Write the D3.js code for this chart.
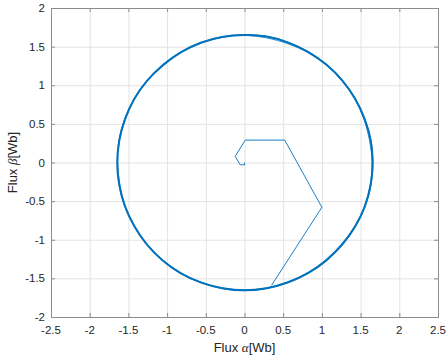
<!DOCTYPE html>
<html>
<head>
<meta charset="utf-8">
<script src="https://cdn.jsdelivr.net/npm/d3@7"></script>
<style>
  body { margin: 0; background: #fff; }
  svg { display: block; font-family: "Liberation Sans", Arial, sans-serif; }
</style>
</head>
<body>
<svg id="chart" width="447" height="359"></svg>
<script>
// tick values
var xTicks = [-2.5, -2, -1.5, -1, -0.5, 0, 0.5, 1, 1.5, 2, 2.5];
var yTicks = [-2, -1.5, -1, -0.5, 0, 0.5, 1, 1.5, 2];

// start-up transient (alpha, beta)
var startAlpha = [0, 0, -0.055, -0.12, 0.01, 0.52, 1.0, 0.35];
var startBeta = [0, -0.03, -0.03, 0.08, 0.29, 0.29, -0.58, -1.59];

// steady state flux locus, read as radius at each angle (deg)
var ringAngle = [0, 10, 20, 30, 40, 50, 60, 70, 80, 90, 100, 110, 120, 130, 140, 150, 160, 170,
                 180, 190, 200, 210, 220, 230, 240, 250, 260, 270, 280, 290, 300, 310, 320, 330, 340, 350];
var ringMain = [1.655, 1.655, 1.65, 1.65, 1.65, 1.65, 1.65, 1.652, 1.655, 1.65, 1.65, 1.65, 1.648, 1.645, 1.645, 1.645, 1.643, 1.643,
                1.643, 1.643, 1.645, 1.645, 1.648, 1.65, 1.652, 1.652, 1.652, 1.655, 1.652, 1.65, 1.65, 1.65, 1.65, 1.652, 1.655, 1.655];
var ringInner = [1.648, 1.64, 1.642, 1.645, 1.646, 1.644, 1.642, 1.636, 1.638, 1.646, 1.646, 1.644, 1.638, 1.632, 1.64, 1.642, 1.636, 1.64,
                 1.64, 1.636, 1.642, 1.642, 1.645, 1.646, 1.648, 1.648, 1.648, 1.65, 1.648, 1.645, 1.642, 1.638, 1.638, 1.645, 1.65, 1.65];
var ringOuter = [1.66, 1.658, 1.656, 1.654, 1.654, 1.654, 1.655, 1.656, 1.658, 1.655, 1.654, 1.653, 1.651, 1.649, 1.648, 1.648, 1.647, 1.647,
                 1.647, 1.647, 1.648, 1.649, 1.651, 1.654, 1.656, 1.656, 1.656, 1.658, 1.656, 1.654, 1.654, 1.654, 1.655, 1.656, 1.66, 1.66];

var svg = d3.select("#chart");
var padL = 51, padR = 438, padT = 8, padB = 317;

var x = d3.scaleLinear().domain([-2.5, 2.5]).range([padL, padR]);
var y = d3.scaleLinear().domain([-2, 2]).range([padB, padT]);

// grid
var grid = svg.append("g");
grid.selectAll(".gx").data(xTicks).enter().append("line")
    .attr("x1", d => x(d) + 0.5).attr("x2", d => x(d) + 0.5)
    .attr("y1", padT).attr("y2", padB)
    .attr("stroke", "#e3e3e3").attr("stroke-width", 1);
grid.selectAll(".gy").data(yTicks).enter().append("line")
    .attr("y1", d => y(d) + 0.5).attr("y2", d => y(d) + 0.5)
    .attr("x1", padL).attr("x2", padR)
    .attr("stroke", "#e3e3e3").attr("stroke-width", 1);

// data
var line = d3.line().x(d => x(d[0])).y(d => y(d[1]));
var ringLine = d3.line().x(d => x(d[0])).y(d => y(d[1])).curve(d3.curveCatmullRomClosed);

function ringPoints(radii) {
    return ringAngle.map(function (a, i) {
        var t = a * Math.PI / 180;
        return [radii[i] * Math.cos(t), radii[i] * Math.sin(t)];
    });
}

var plot = svg.append("g");
[ringInner, ringOuter, ringMain].forEach(function (r, i) {
    plot.append("path")
        .datum(ringPoints(r))
        .attr("fill", "none")
        .attr("stroke", "#0072BD")
        .attr("stroke-width", i == 2 ? 2 : 0.8)
        .attr("d", ringLine);
});

plot.append("path")
    .datum(startAlpha.map((a, i) => [a, startBeta[i]]))
    .attr("fill", "none")
    .attr("stroke", "#0072BD")
    .attr("stroke-width", 0.9)
    .attr("stroke-linejoin", "round")
    .attr("d", line);

// axes box
var axisColor = "#8c8c8c";
svg.append("rect")
    .attr("x", padL + 0.5).attr("y", padT + 0.5)
    .attr("width", padR - padL).attr("height", padB - padT)
    .attr("fill", "none").attr("stroke", axisColor).attr("stroke-width", 1);

var ticks = svg.append("g").attr("stroke", axisColor).attr("stroke-width", 1);
xTicks.forEach(function (d) {
    ticks.append("line").attr("x1", x(d) + 0.5).attr("x2", x(d) + 0.5).attr("y1", padB).attr("y2", padB - 4);
    ticks.append("line").attr("x1", x(d) + 0.5).attr("x2", x(d) + 0.5).attr("y1", padT).attr("y2", padT + 4);
});
yTicks.forEach(function (d) {
    ticks.append("line").attr("y1", y(d) + 0.5).attr("y2", y(d) + 0.5).attr("x1", padL).attr("x2", padL + 4);
    ticks.append("line").attr("y1", y(d) + 0.5).attr("y2", y(d) + 0.5).attr("x1", padR).attr("x2", padR - 4);
});

// tick labels
svg.append("g").selectAll("text").data(xTicks).enter().append("text")
    .attr("x", d => x(d)).attr("y", padB + 17)
    .attr("text-anchor", "middle")
    .attr("font-size", 11.5).attr("fill", "#262626")
    .text(d => d);
svg.append("g").selectAll("text").data(yTicks).enter().append("text")
    .attr("x", padL - 6).attr("y", d => y(d) + 4)
    .attr("text-anchor", "end")
    .attr("font-size", 11.5).attr("fill", "#262626")
    .text(d => d);

// axis labels
var xl = svg.append("text")
    .attr("x", x(0)).attr("y", 352)
    .attr("text-anchor", "middle")
    .attr("font-size", 13).attr("fill", "#262626");
xl.append("tspan").text("Flux ");
xl.append("tspan").attr("font-family", "'Liberation Serif', serif").attr("font-style", "italic").text("α");
xl.append("tspan").text("[Wb]");

var yl = svg.append("text")
    .attr("transform", "translate(17," + y(0) + ") rotate(-90)")
    .attr("text-anchor", "middle")
    .attr("font-size", 13).attr("fill", "#262626");
yl.append("tspan").text("Flux ");
yl.append("tspan").attr("font-family", "'Liberation Serif', serif").attr("font-style", "italic").text("β");
yl.append("tspan").text("[Wb]");
</script>
</body>
</html>
